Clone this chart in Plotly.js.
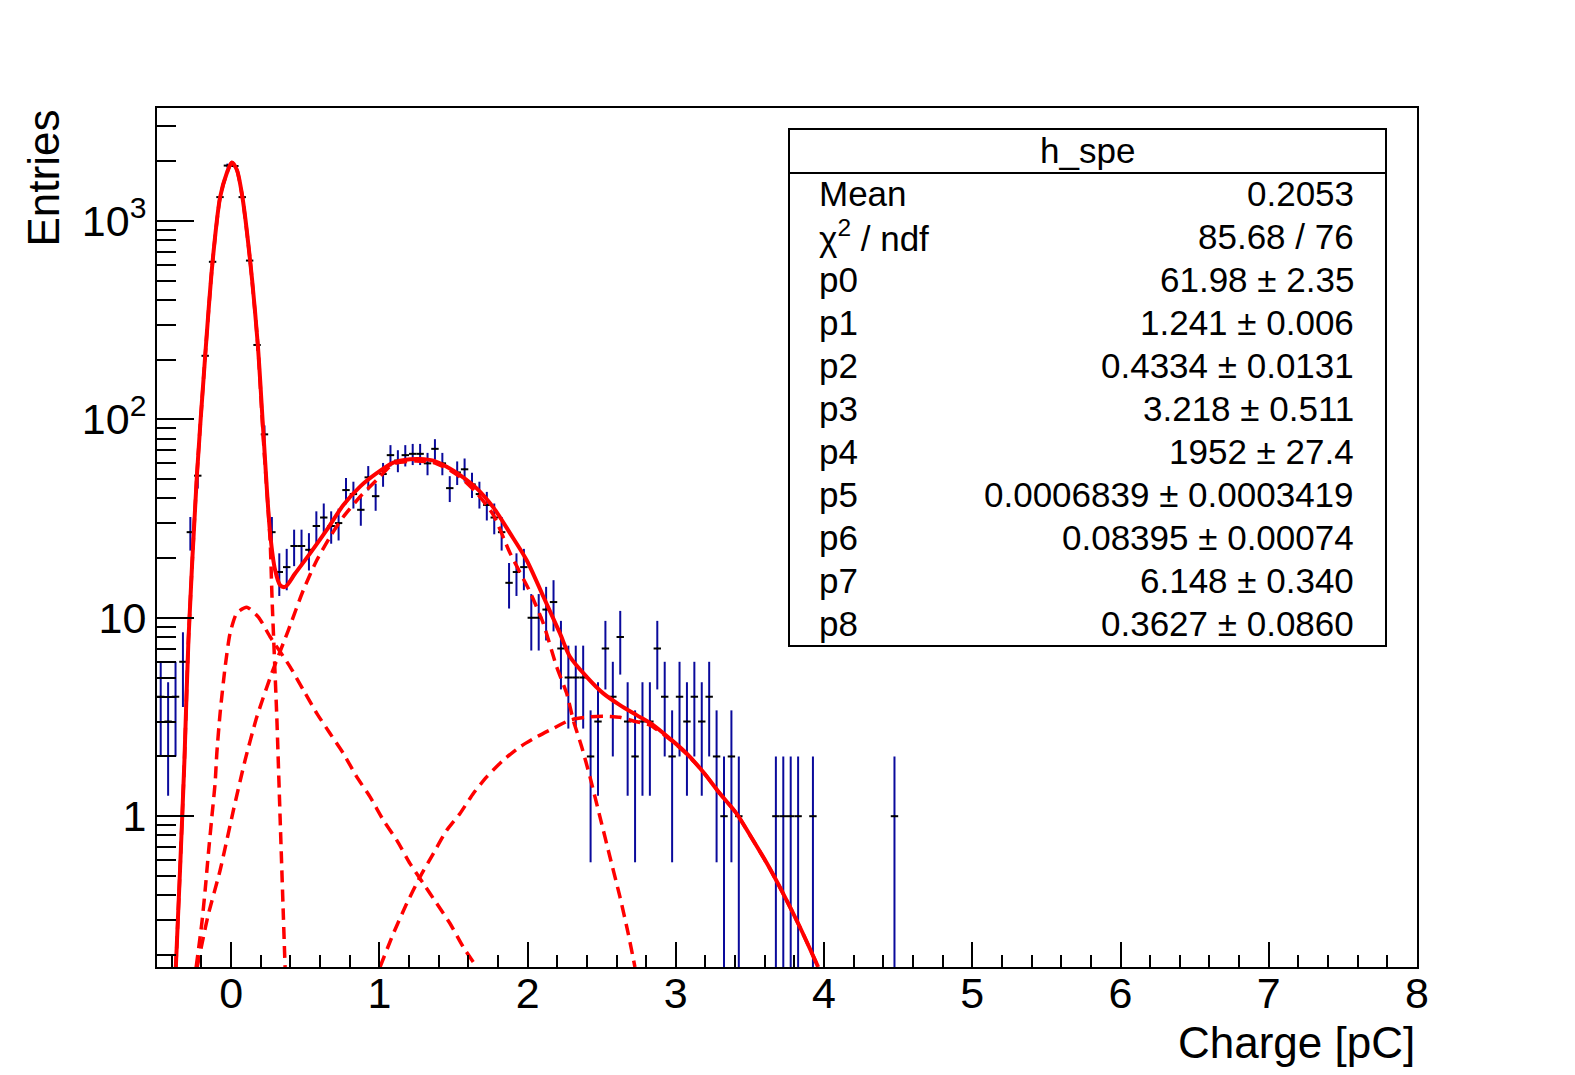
<!DOCTYPE html>
<html>
<head>
<meta charset="utf-8">
<script src="https://cdn.plot.ly/plotly-3.0.1.min.js"></script>
<style>html,body{margin:0;padding:0;background:#fff;}#plot{width:1575px;height:1075px;}</style>
</head>
<body>
<div id="plot"></div>
<script>
// Histogram h_spe : non-empty bins (bin width 0.05 pC)
const binCenters = [-0.475,-0.425,-0.375,-0.325,-0.275,-0.225,-0.175,-0.125,-0.075,-0.025,0.025,0.075,0.125,0.175,0.225,0.275,0.325,0.375,0.425,0.475,0.525,0.575,0.625,0.675,0.725,0.775,0.825,0.875,0.925,0.975,1.025,1.075,1.125,1.175,1.225,1.275,1.325,1.375,1.425,1.475,1.525,1.575,1.625,1.675,1.725,1.775,1.825,1.875,1.925,1.975,2.025,2.075,2.125,2.175,2.225,2.275,2.325,2.375,2.425,2.475,2.525,2.575,2.625,2.675,2.725,2.775,2.825,2.875,2.925,2.975,3.025,3.075,3.125,3.175,3.225,3.275,3.325,3.375,3.425,3.675,3.725,3.775,3.825,3.925,4.475];
const binCounts = [4,3,4,6,27,52,209,622,1318,1900,1890,1318,631,237,84,27,17,18,23,23,22,29,32,29,30,44,42,35,51,41,53,66,62,66,67,67,60,71,60,45,54,56,47,42,37,32,27,15,17,18,10,10,11,12,7,5,5,5,2,3,7,4,8,3,2,3,3,7,4,2,4,3,4,3,4,2,1,2,1,1,1,1,1,1,1];
const binHalfWidth = 0.025;

// Total fit (solid)
const fitTotalX = [-0.3729,-0.3439,-0.3149,-0.2879,-0.2313,-0.1753,-0.1261,-0.0742,-0.029,0.0047,0.0384,0.0762,0.1281,0.180,0.2178,0.263,0.2967,0.3304,0.3641,0.4316,0.5327,0.6453,0.7573,0.8699,0.9825,1.0944,1.207,1.2744,1.3641,1.4545,1.5442,1.6568,1.7687,1.8813,1.9939,2.1059,2.2185,2.2859,2.3985,2.5105,2.6231,2.7357,2.8476,2.9602,3.0728,3.1848,3.2974,3.41,3.4997,3.6123,3.7242,3.8368,3.9602];
const fitTotalY = [0.1732,0.553,1.916,7.72,51.4,207,612,1318,1742,1970,1811,1318,631,237,85.1,26.7,17.4,14.6,14.3,16.7,21.1,27.7,37.0,45.8,53.5,60.5,62.9,63.1,61.9,57.7,52.4,44.9,36.0,26.7,19.5,12.8,8.34,6.36,5.04,4.16,3.63,3.23,2.88,2.46,2.07,1.67,1.30,1.03,0.804,0.582,0.4075,0.2765,0.1738];

// Pedestal gaussian component (dashed)
const pedX = [-0.3729,-0.3439,-0.3149,-0.2879,-0.2313,-0.1753,-0.1261,-0.0742,-0.029,0.0047,0.0384,0.0762,0.1281,0.180,0.2178,0.263,0.2765,0.290,0.3082,0.3304,0.3527,0.3641];
const pedY = [0.1732,0.553,1.916,7.72,51.4,207,612,1318,1742,1970,1811,1318,631,237,78.7,24.6,12.3,6.87,3.16,0.99,0.31,0.1732];

// Exponential background component (dashed)
const bgX = [-0.236,-0.1976,-0.1753,-0.1531,-0.1301,-0.1079,-0.0964,-0.0742,-0.0405,-0.0067,0.0384,0.1059,0.1841,0.263,0.3978,0.4875,0.5779,0.6676,0.7573,0.8476,0.9373,1.027,1.1173,1.207,1.2967,1.3871,1.4767,1.5664,1.6568];
const bgY = [0.1732,0.289,0.423,0.651,0.99,1.47,2.08,3.31,5.64,8.37,10.56,11.3,10.08,8.02,5.66,4.32,3.30,2.61,2.07,1.578,1.251,0.955,0.757,0.577,0.458,0.363,0.288,0.219,0.1738];

// Single photo-electron gaussian (dashed)
const spe1X = [-0.2293,-0.1551,-0.0742,0.0155,0.0944,0.1733,0.2744,0.3864,0.4875,0.5779,0.6676,0.7573,0.8699,0.9825,1.0944,1.2407,1.3641,1.4545,1.5442,1.6568,1.7687,1.8813,2.0162,2.1059,2.1962,2.2636,2.3082,2.3648,2.4208,2.4882,2.5556,2.6231,2.679,2.7242];
const spe1Y = [0.1732,0.317,0.534,1.072,1.916,3.16,5.26,8.67,13.8,19.5,25.6,32.3,40.7,49.5,59.6,61.7,60.6,56.6,51.2,42.5,33.0,21.2,13.5,9.37,5.66,4.16,3.05,2.24,1.578,0.992,0.623,0.392,0.256,0.1738];

// Two photo-electron gaussian (dashed)
const spe2X = [1.0047,1.0944,1.1848,1.2744,1.3641,1.4545,1.5442,1.6339,1.7242,1.8362,1.9488,2.0614,2.1733,2.2859,2.4208,2.5105,2.6231,2.7357,2.8254,2.9602,3.0728,3.1848,3.2974,3.41,3.4997,3.6123,3.7242,3.8368,3.9602];
const spe2Y = [0.1738,0.256,0.363,0.494,0.648,0.850,1.032,1.302,1.578,1.916,2.236,2.51,2.77,3.05,3.17,3.19,3.15,2.99,2.88,2.44,2.06,1.67,1.30,1.03,0.804,0.582,0.4075,0.2765,0.1738];

// Stats box
const statsTitle = "h_spe";
const statLabels = ["Mean","χ<sup>2</sup> / ndf","p0","p1","p2","p3","p4","p5","p6","p7","p8"];
const statValues = ["0.2053","85.68 / 76","61.98 ± 2.35","1.241 ± 0.006","0.4334 ± 0.0131","3.218 ± 0.511","1952 ± 27.4","0.0006839 ± 0.0003419","0.08395 ± 0.00074","6.148 ± 0.340","0.3627 ± 0.0860"];

// Axis ticks
const xTickVals = [0,1,2,3,4,5,6,7,8];
const yTickVals = [1,10,100,1000];
const yTickText = ["1","10","10<sup>2</sup>","10<sup>3</sup>"];
const yMinorVals = [0.2,0.3,0.4,0.5,0.6,0.7,0.8,0.9,2,3,4,5,6,7,8,9,20,30,40,50,60,70,80,90,200,300,400,500,600,700,800,900,2000,3000];

const FONT = "Liberation Sans, Arial, Helvetica, sans-serif";
const RED = "#ff0000";
const DASH = "12px,7px";

const traces = [
  {
    x: binCenters, y: binCounts, type: "scatter", mode: "markers",
    marker: {size: 2, color: "#000000"},
    error_y: {type: "data", array: binCounts.map(v => Math.sqrt(v)), color: "#0a0a9c", thickness: 2, width: 0},
    error_x: {type: "constant", value: binHalfWidth, color: "#000000", thickness: 2, width: 0},
    hoverinfo: "x+y", showlegend: false
  },
  {x: pedX, y: pedY, type: "scatter", mode: "lines", line: {color: RED, width: 3.5, dash: DASH, shape: "spline", smoothing: 0.6}, showlegend: false},
  {x: bgX, y: bgY, type: "scatter", mode: "lines", line: {color: RED, width: 3.5, dash: DASH, shape: "spline", smoothing: 0.6}, showlegend: false},
  {x: spe1X, y: spe1Y, type: "scatter", mode: "lines", line: {color: RED, width: 3.5, dash: DASH, shape: "spline", smoothing: 0.6}, showlegend: false},
  {x: spe2X, y: spe2Y, type: "scatter", mode: "lines", line: {color: RED, width: 3.5, dash: DASH, shape: "spline", smoothing: 0.6}, showlegend: false},
  {x: fitTotalX, y: fitTotalY, type: "scatter", mode: "lines", line: {color: RED, width: 4, shape: "spline", smoothing: 0.8}, showlegend: false}
];

// paper-coordinate helpers for the stats box layout
const L = 157, R = 1417, T = 108, B = 967;
const px = p => (p - L) / (R - L);
const py = p => (B - p) / (B - T);

const annotations = [];
annotations.push({xref: "paper", yref: "paper", x: px(1087), y: py(150), text: statsTitle, showarrow: false, xanchor: "center", yanchor: "middle", font: {family: FONT, size: 35, color: "#000"}});
const rowY = [193,236,279,322,365,408,451,494,537,580,623];
statLabels.forEach((lab, i) => {
  annotations.push({xref: "paper", yref: "paper", x: px(817), y: py(rowY[i]), text: lab, showarrow: false, xanchor: "left", yanchor: "middle", font: {family: FONT, size: 35, color: "#000"}});
  annotations.push({xref: "paper", yref: "paper", x: px(1356), y: py(rowY[i]), text: statValues[i], showarrow: false, xanchor: "right", yanchor: "middle", font: {family: FONT, size: 35, color: "#000"}});
});
annotations.push({xref: "paper", yref: "paper", x: px(43), y: 1, text: "Entries", textangle: -90, showarrow: false, xanchor: "center", yanchor: "top", font: {family: FONT, size: 44, color: "#000"}});
annotations.push({xref: "paper", yref: "paper", x: 1, y: py(1042), text: "Charge [pC]", showarrow: false, xanchor: "right", yanchor: "middle", font: {family: FONT, size: 44, color: "#000"}});

const layout = {
  width: 1575, height: 1075,
  margin: {l: L, r: 1575 - R, t: T, b: 1075 - B, pad: 0},
  paper_bgcolor: "#ffffff", plot_bgcolor: "#ffffff",
  font: {family: FONT, size: 43, color: "#000"},
  showlegend: false,
  xaxis: {
    range: [-0.5, 8], showgrid: false, zeroline: false,
    showline: true, linecolor: "#000", linewidth: 2, mirror: true,
    ticks: "inside", ticklen: 25, tickwidth: 2, tickcolor: "#000",
    ticklabelstandoff: -13,
    tickmode: "array", tickvals: xTickVals, ticktext: xTickVals.map(String),
    tickfont: {family: FONT, size: 43, color: "#000"},
    minor: {ticks: "inside", ticklen: 12, tickwidth: 2, tickcolor: "#000", dtick: 0.2, tick0: 0, showgrid: false}
  },
  yaxis: {
    type: "log", range: [Math.log10(0.1738), Math.log10(3706)], showgrid: false, zeroline: false,
    showline: true, linecolor: "#000", linewidth: 2, mirror: true,
    ticks: "inside", ticklen: 37, tickwidth: 2, tickcolor: "#000",
    tickmode: "array", tickvals: yTickVals, ticktext: yTickText,
    tickfont: {family: FONT, size: 43, color: "#000"},
    minor: {ticks: "inside", ticklen: 19, tickwidth: 2, tickcolor: "#000", tickmode: "array", tickvals: yMinorVals, showgrid: false}
  },
  shapes: [
    {type: "rect", xref: "paper", yref: "paper", x0: px(789), x1: px(1386), y0: py(646), y1: py(129), line: {color: "#000", width: 2}, fillcolor: "#ffffff", layer: "above"},
    {type: "line", xref: "paper", yref: "paper", x0: px(789), x1: px(1386), y0: py(173), y1: py(173), line: {color: "#000", width: 2}, layer: "above"}
  ],
  annotations: annotations
};

Plotly.newPlot("plot", traces, layout, {staticPlot: true, displayModeBar: false});
</script>
</body>
</html>
